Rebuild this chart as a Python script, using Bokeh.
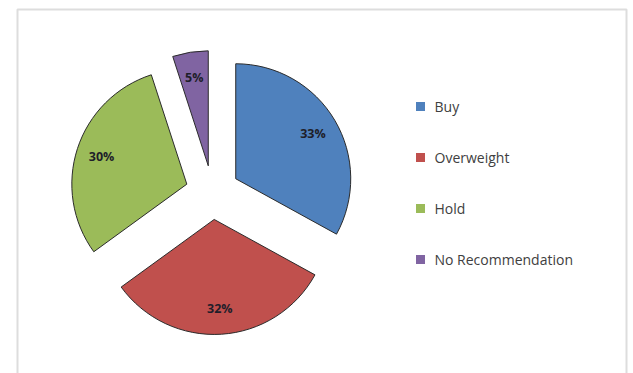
import math
from bokeh.plotting import figure
from bokeh.models import Range1d, BoxAnnotation, ColumnDataSource
from bokeh.core.properties import value
from bokeh.embed import file_html
from bokeh.resources import INLINE

# ---- data ----
categories = ["Buy", "Overweight", "Hold", "No Recommendation"]
shares = [33, 32, 30, 5]
pct_labels = ["33%", "32%", "30%", "5%"]
colors = ["#4F81BD", "#C0504D", "#9BBB59", "#8064A2"]

# ---- layout constants (pixels) ----
W, H = 633, 373
CX, CY = 212, H - 192      # pie centre
R = 115                    # radius
EXPLODE = 27               # explosion offset
LABEL_FRAC = 0.78          # label distance from slice apex (fraction of R)

p = figure(width=W, height=H, x_range=Range1d(0, W), y_range=Range1d(0, H),
           x_axis_type=None, y_axis_type=None, toolbar_location=None,
           output_backend="svg", min_border=0)
p.grid.visible = False
p.outline_line_color = None
p.background_fill_color = "white"
p.border_fill_color = "white"

# chart border
p.add_layout(BoxAnnotation(left=17, right=626, top=H - 9, bottom=-30,
                           fill_alpha=0, line_color="#8e8e8e", line_width=2))

# ---- pie geometry from data ----
total = sum(shares)
xs, ys, starts, ends, lx, ly = [], [], [], [], [], []
cum = 0.0
for s in shares:
    a0 = cum / total * 2 * math.pi          # clockwise from 12 o'clock
    a1 = (cum + s) / total * 2 * math.pi
    mid = (a0 + a1) / 2
    dx, dy = math.sin(mid), math.cos(mid)
    ax, ay = CX + EXPLODE * dx, CY + EXPLODE * dy
    xs.append(ax); ys.append(ay)
    starts.append(math.pi / 2 - a0)
    ends.append(math.pi / 2 - a1)
    lx.append(ax + LABEL_FRAC * R * dx)
    ly.append(ay + LABEL_FRAC * R * dy)
    cum += s

src = ColumnDataSource(dict(x=xs, y=ys, start=starts, end=ends, color=colors,
                            lx=lx, ly=ly, label=pct_labels, cat=categories))

p.wedge(x="x", y="y", radius=R, start_angle="start", end_angle="end",
        direction="clock", fill_color="color", line_color="#2b2b2b",
        line_width=1, source=src)

p.text(x="lx", y="ly", text="label", source=src, text_align="center",
       text_baseline="middle", text_font=value("Open Sans"),
       text_font_style="bold", text_font_size="12.5px", text_color="#1e1e2a")

# ---- legend (custom) ----
LEG_X, LEG_Y0, LEG_DY = 420, H - 106, 51
leg_y = [LEG_Y0 - i * LEG_DY for i in range(len(categories))]
leg_src = ColumnDataSource(dict(x=[LEG_X] * len(categories), y=leg_y,
                                tx=[LEG_X + 14] * len(categories),
                                cat=categories, color=colors))
p.scatter(x="x", y="y", marker="square", size=9, fill_color="color",
          line_color=None, source=leg_src)
p.text(x="tx", y="y", text="cat", source=leg_src, text_align="left",
       text_baseline="middle", text_font=value("Open Sans"),
       text_font_size="14px", text_color="#404040")

open("out.html", "w").write(file_html(p, INLINE))
